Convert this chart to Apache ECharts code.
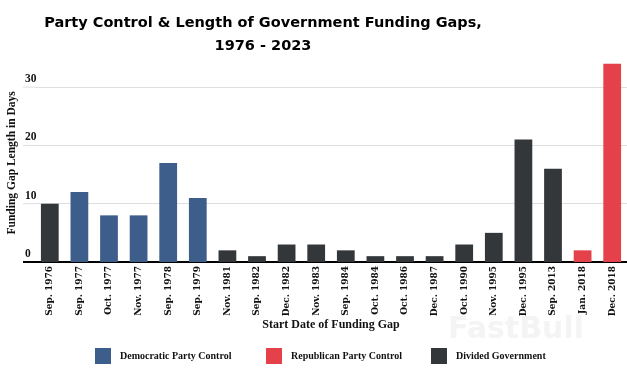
<!DOCTYPE html>
<html>
<head>
<meta charset="utf-8">
<script src="https://cdn.jsdelivr.net/npm/echarts@6/dist/echarts.min.js"></script>
<style>html,body{margin:0;padding:0;background:#fff}#c{width:627px;height:369px}</style>
</head>
<body>
<div id="c"></div>
<script>
const categories = ['Sep. 1976','Sep. 1977','Oct. 1977','Nov. 1977','Sep. 1978','Sep. 1979','Nov. 1981','Sep. 1982','Dec. 1982','Nov. 1983','Sep. 1984','Oct. 1984','Oct. 1986','Dec. 1987','Oct. 1990','Nov. 1995','Dec. 1995','Sep. 2013','Jan. 2018','Dec. 2018'];
const gapDays = [10,12,8,8,17,11,2,1,3,3,2,1,1,1,3,5,21,16,2,34];
const control = ['D','Dem','Dem','Dem','Dem','Dem','D','D','D','D','D','D','D','D','D','D','D','D','Rep','Rep'];
const yTicks = [0,10,20,30];
const seriesNames = {Dem:'Democratic Party Control', Rep:'Republican Party Control', D:'Divided Government'};
const colors = {Dem:'#3d5e8b', Rep:'#e4414a', D:'#33373a'};

const serif = 'DejaVu Serif';
const chart = echarts.init(document.getElementById('c'));
const keys = ['Dem','Rep','D'];
const series = keys.map(k => ({
  name: seriesNames[k], type: 'bar', stack: 'all', barWidth: '60%',
  itemStyle: {color: colors[k]},
  data: gapDays.map((v,i) => control[i] === k ? v : null)
}));
const legendLefts = [95, 266, 431];
chart.setOption({
  animation: false,
  grid: {left: 35, right: 0, top: 63.8, bottom: 107, containLabel: false, outerBoundsMode: 'none'},
  xAxis: {
    type: 'category', data: categories,
    axisLine: {lineStyle: {color: '#000', width: 2}},
    axisTick: {show: false},
    axisLabel: {rotate: 90, margin: 4, fontFamily: serif, fontWeight: 'bold', fontSize: 9, color: '#111', interval: 0},
    name: 'Start Date of Funding Gap', nameLocation: 'middle', nameGap: 57, nameMoveOverlap: false,
    nameTextStyle: {fontFamily: 'Liberation Serif', fontWeight: 'bold', fontSize: 12, color: '#111'}
  },
  yAxis: {
    type: 'value', min: 0, max: 34, interval: 10,
    axisLine: {show: false}, axisTick: {show: false},
    splitLine: {lineStyle: {color: ['#dedede','#dedede','#dedede','#dedede','rgba(0,0,0,0)'], width: 1}},
    axisLabel: {showMaxLabel: false, align: 'left', verticalAlign: 'bottom', margin: 10, padding: [0,0,2,0], fontFamily: 'Liberation Serif', fontWeight: 'bold', fontSize: 11.5, color: '#111'},
    name: 'Funding Gap Length in Days', nameLocation: 'middle', nameGap: 17, nameMoveOverlap: false,
    nameTextStyle: {fontFamily: 'Liberation Serif', fontWeight: 'bold', fontSize: 11.5, color: '#111'}
  },
  legend: keys.map((k,i) => ({
    data: [seriesNames[k]], left: legendLefts[i] - 5, top: 343, itemWidth: 16, itemHeight: 16,
    icon: 'rect', selectedMode: false,
    textStyle: {fontFamily: 'Liberation Serif', fontWeight: 'bold', fontSize: 10, color: '#111', padding: [0,0,0,4]}
  })),
  series: series
});

const ext = yTicks.map(t => {
  const y = chart.convertToPixel({yAxisIndex: 0}, t);
  return {type: 'line', shape: {x1: 23, y1: y, x2: 35, y2: y},
    style: t === 0 ? {stroke: '#000', lineWidth: 2} : {stroke: '#dedede', lineWidth: 1}, z: 1};
});
chart.setOption({
  graphic: [
    {type: 'text', x: 263, y: 11, z: 10, style: {
      text: 'Party Control & Length of Government Funding Gaps,\n1976 - 2023',
      fill: '#000', font: 'bold 14.5px "DejaVu Sans"', align: 'center', lineHeight: 23.5
    }},
    {type: 'text', x: 516, y: 330, z: 0, style: {
      text: 'FastBull', fill: '#f4f4f4', font: 'bold 30px "DejaVu Sans"', align: 'center', verticalAlign: 'middle'
    }}
  ].concat(ext)
});
</script>
</body>
</html>
